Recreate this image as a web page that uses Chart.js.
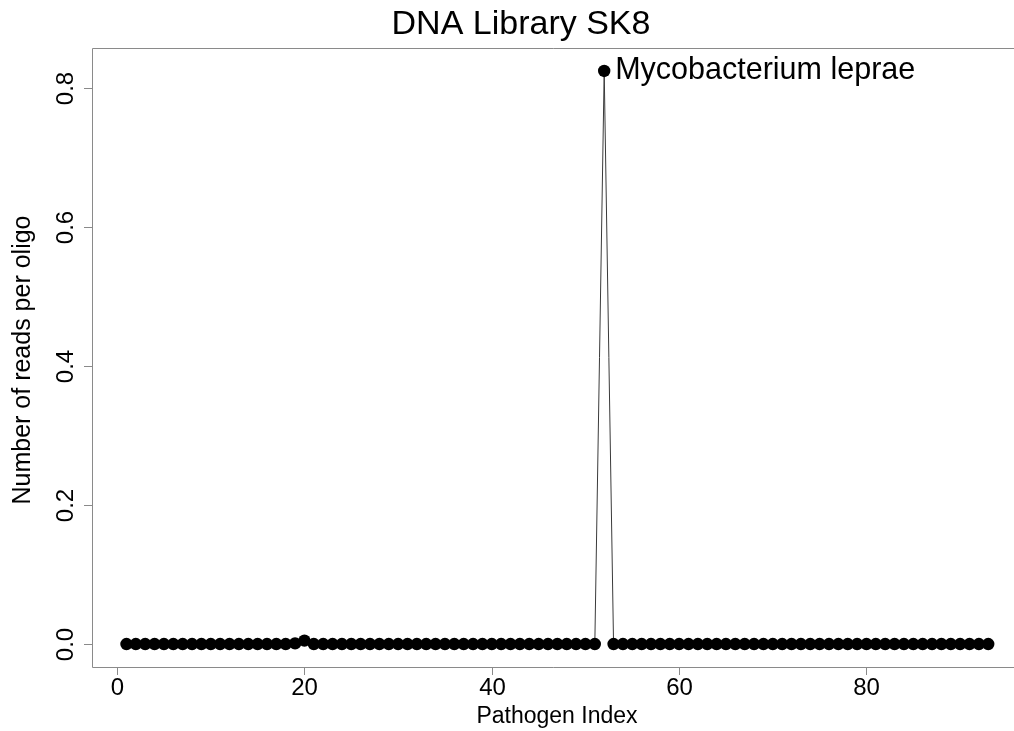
<!DOCTYPE html>
<html>
<head>
<meta charset="utf-8">
<title>DNA Library SK8</title>
<script src="https://cdn.jsdelivr.net/npm/chart.js@4.4.1/dist/chart.umd.min.js"></script>
<style>
  html, body { margin: 0; padding: 0; background: #ffffff; overflow: hidden; }
  #wrap { width: 1014px; height: 731px; position: relative; }
  canvas { display: block; }
</style>
</head>
<body>
<div id="wrap"><canvas id="chart" width="1014" height="731"></canvas></div>
<script>
// Reads per oligo for each pathogen in the panel (pathogen index 1..93)
const readsPerOligo = [
  0, 0, 0, 0, 0, 0, 0, 0, 0, 0,
  0, 0, 0, 0, 0, 0, 0, 0, 0.001, 0.005,
  0, 0, 0, 0, 0, 0, 0, 0, 0, 0,
  0, 0, 0, 0, 0, 0, 0, 0, 0, 0,
  0, 0, 0, 0, 0, 0, 0, 0, 0, 0,
  0, 0.824, 0, 0, 0, 0, 0, 0, 0, 0,
  0, 0, 0, 0, 0, 0, 0, 0, 0, 0,
  0, 0, 0, 0, 0, 0, 0, 0, 0, 0,
  0, 0, 0, 0, 0, 0, 0, 0, 0, 0,
  0, 0, 0
];

// Axis tick positions and labels
const xTickValues = [0, 20, 40, 60, 80];
const xTickLabels = ['0', '20', '40', '60', '80'];
const yTickValues = [0, 0.2, 0.4, 0.6, 0.8];
const yTickLabels = ['0.0', '0.2', '0.4', '0.6', '0.8'];

// Named pathogen annotated next to its point
const labelledIndex = [52];
const labelledNames = ['Mycobacterium leprae'];

const chartTitle = 'DNA Library SK8';
const xAxisTitle = 'Pathogen Index';
const yAxisTitle = 'Number of reads per oligo';

const FONT = '"Liberation Sans", Arial, Helvetica, sans-serif';

const points = readsPerOligo.map((v, i) => ({ x: i + 1, y: v }));

// Axis ranges: 4% padding around the data; the right edge of the
// plotting region runs off the canvas, so only part of that side shows
const xLo = 1, xHi = readsPerOligo.length;
const xPad = (xHi - xLo) * 0.04;
const xVisibleMax = 95.75;
const yLo = Math.min(...readsPerOligo), yHi = Math.max(...readsPerOligo);
const yPad = (yHi - yLo) * 0.04;

const framePlugin = {
  id: 'frame',
  afterDraw(chart) {
    const ctx = chart.ctx;
    const a = chart.chartArea;
    const xs = chart.scales.x, ys = chart.scales.y;
    const W = chart.width;
    ctx.save();

    // plot frame (top, left, bottom)
    ctx.strokeStyle = '#8a8a8a';
    ctx.lineWidth = 1;
    ctx.beginPath();
    ctx.moveTo(W, a.top + 0.5);
    ctx.lineTo(a.left + 0.5, a.top + 0.5);
    ctx.lineTo(a.left + 0.5, a.bottom + 0.5);
    ctx.lineTo(W, a.bottom + 0.5);
    ctx.stroke();

    // x ticks
    ctx.fillStyle = '#000';
    ctx.font = '24px ' + FONT;
    ctx.textAlign = 'center';
    ctx.textBaseline = 'middle';
    xTickValues.forEach((v, i) => {
      const px = Math.round(xs.getPixelForValue(v)) + 0.5;
      ctx.beginPath();
      ctx.moveTo(px, a.bottom);
      ctx.lineTo(px, a.bottom + 8);
      ctx.stroke();
      ctx.fillText(xTickLabels[i], px, a.bottom + 21);
    });

    // y ticks, labels drawn parallel to the axis
    yTickValues.forEach((v, i) => {
      const py = Math.round(ys.getPixelForValue(v)) + 0.5;
      ctx.beginPath();
      ctx.moveTo(a.left, py);
      ctx.lineTo(a.left - 8, py);
      ctx.stroke();
      ctx.save();
      ctx.translate(a.left - 26, py);
      ctx.rotate(-Math.PI / 2);
      ctx.fillText(yTickLabels[i], 0, 0);
      ctx.restore();
    });

    // axis titles
    ctx.font = '23px ' + FONT;
    ctx.fillText(xAxisTitle, 557, 717);
    ctx.save();
    ctx.translate(23, 360);
    ctx.rotate(-Math.PI / 2);
    ctx.font = '25px ' + FONT;
    ctx.fillText(yAxisTitle, 0, 0);
    ctx.restore();

    // main title
    ctx.font = '34px ' + FONT;
    ctx.textBaseline = 'alphabetic';
    ctx.fillText(chartTitle, 521, 34);

    // point annotations
    ctx.font = '30.5px ' + FONT;
    ctx.textAlign = 'left';
    ctx.textBaseline = 'middle';
    const meta = chart.getDatasetMeta(0);
    labelledIndex.forEach((idx, k) => {
      const el = meta.data[idx - 1];
      ctx.fillText(labelledNames[k], el.x + 11, el.y);
    });

    ctx.restore();
  }
};

new Chart(document.getElementById('chart'), {
  type: 'line',
  data: {
    datasets: [{
      data: points,
      showLine: true,
      borderColor: '#3a3a3a',
      borderWidth: 1,
      pointRadius: 6.2,
      pointHoverRadius: 6.2,
      pointBackgroundColor: '#000',
      pointBorderWidth: 0,
      tension: 0,
      clip: false
    }]
  },
  options: {
    responsive: false,
    animation: false,
    events: [],
    layout: { autoPadding: false, padding: { left: 92, top: 48, right: 0, bottom: 64 } },
    plugins: { legend: { display: false }, tooltip: { enabled: false }, title: { display: false } },
    scales: {
      x: { type: 'linear', display: false, min: xLo - xPad, max: xVisibleMax },
      y: { type: 'linear', display: false, min: yLo - yPad, max: yHi + yPad }
    }
  },
  plugins: [framePlugin]
});
</script>
</body>
</html>
